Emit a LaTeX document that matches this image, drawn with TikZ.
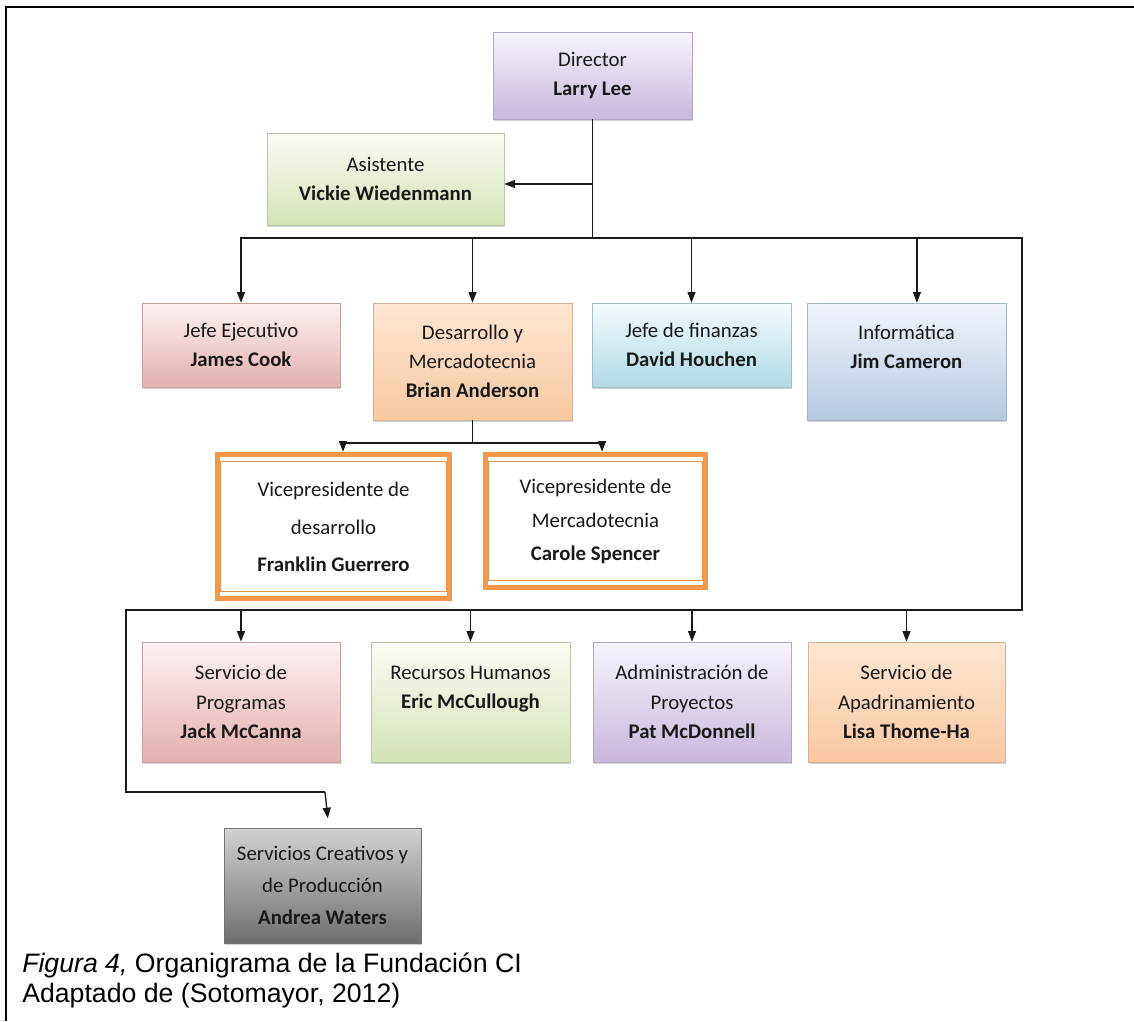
\documentclass[tikz,border=0pt]{standalone}
\usepackage{fontspec}
\setmainfont{Liberation Sans}
\newfontfamily\boxfont{Carlito}
\usetikzlibrary{arrows.meta,shadows,calc}
\definecolor{purT}{HTML}{F7F3FB}
\definecolor{purB}{HTML}{C8B8DB}
\definecolor{grnT}{HTML}{FBFDF5}
\definecolor{grnB}{HTML}{D3E2B8}
\definecolor{pnkT}{HTML}{FDF2F2}
\definecolor{pnkB}{HTML}{E2B0AF}
\definecolor{orgT}{HTML}{FDE6D3}
\definecolor{orgB}{HTML}{F9C8A0}
\definecolor{cyaT}{HTML}{F5FBFD}
\definecolor{cyaB}{HTML}{B0D9E5}
\definecolor{bluT}{HTML}{F0F4FA}
\definecolor{bluB}{HTML}{B6C9E1}
\definecolor{gryT}{HTML}{D2D2D2}
\definecolor{gryB}{HTML}{6E6E6E}
\definecolor{vporange}{HTML}{F79646}
\tikzset{
  orgbox/.style 2 args={rectangle, draw=#2!70!gray, line width=0.5pt,
    top color=#1, bottom color=#2,
    drop shadow={shadow xshift=0.8pt, shadow yshift=-1.8pt, opacity=0.35},
    font=\boxfont\fontsize{15.6}{22}\selectfont, text=black!90, align=center, inner sep=2pt},
  vpbox/.style={rectangle, fill=white, draw=none, font=\boxfont\fontsize{15.6}{#1}\selectfont,
    text=black!90, align=center, inner sep=2pt},
  vpouter/.style={draw=vporange, line width=3.75pt},
  vpinner/.style={draw=vporange!85!gray, line width=0.8pt},
  conn/.style={line width=1pt, draw=black!90},
  arr/.style={conn, -{Triangle[width=6pt,length=8pt]}},
  captxt/.style={anchor=base west, font=\fontsize{20}{22.5}\selectfont, inner sep=0pt}
}
\begin{document}
\begin{tikzpicture}[x=0.75pt,y=-0.75pt]
\useasboundingbox (0,0) rectangle (1134,1021);
% frame
\draw[line width=2.2pt] (6,1021) -- (6,7) -- (1134,7);

% level 0/1
\node[orgbox={purT}{purB}, minimum width=149.25pt, minimum height=65.25pt] (dir) at (592.5,75.5)
  {Director\\\textbf{Larry Lee}};
\node[orgbox={grnT}{grnB}, minimum width=177.75pt, minimum height=69pt] (asis) at (385.5,179)
  {Asistente\\\textbf{Vickie Wiedenmann}};

% level 2
\node[orgbox={pnkT}{pnkB}, minimum width=148.5pt, minimum height=63pt] (je) at (241,345)
  {Jefe Ejecutivo\\\textbf{James Cook}};
\node[orgbox={orgT}{orgB}, minimum width=149.25pt, minimum height=87.75pt] (dm) at (472.5,361.5)
  {Desarrollo y\\Mercadotecnia\\\textbf{Brian Anderson}};
\node[orgbox={cyaT}{cyaB}, minimum width=149.25pt, minimum height=63pt] (jf) at (691.5,345)
  {Jefe de finanzas\\\textbf{David Houchen}};
\node[orgbox={bluT}{bluB}, minimum width=149.25pt, minimum height=87.75pt] (inf) at (906.5,361.5)
  {Informática\\\textbf{Jim Cameron}\\\mbox{}};

% vice presidents
\node[vpbox=28, minimum width=177.75pt, minimum height=112.5pt] (vp1) at (333.5,527)
  {Vicepresidente de\\desarrollo\\\textbf{Franklin Guerrero}};
\node[vpbox=25, minimum width=168.75pt, minimum height=104.25pt] (vp2) at (595.5,521.5)
  {Vicepresidente de\\Mercadotecnia\\\textbf{Carole Spencer}};
\foreach \v in {vp1,vp2}{
  \draw[vpouter] ([shift={(2.5,2.5)}]\v.north west) rectangle ([shift={(-2.5,-3.5)}]\v.south east);
  \draw[vpinner] ([shift={(6,10)}]\v.north west) rectangle ([shift={(-6,-11)}]\v.south east);
}

% level 3
\node[orgbox={pnkT}{pnkB}, minimum width=148.5pt, minimum height=90pt] (sp) at (241,702)
  {Servicio de\\Programas\\\textbf{Jack McCanna}};
\node[orgbox={grnT}{grnB}, minimum width=149.25pt, minimum height=90pt] (rh) at (470.5,702)
  {Recursos Humanos\\\textbf{Eric McCullough}\\\mbox{}};
\node[orgbox={purT}{purB}, minimum width=148.5pt, minimum height=90pt] (ap) at (692,702)
  {Administración de\\Proyectos\\\textbf{Pat McDonnell}};
\node[orgbox={orgT}{orgB}, minimum width=147.75pt, minimum height=90pt] (sa) at (906.5,702)
  {Servicio de\\Apadrinamiento\\\textbf{Lisa Thome-Ha}};

% level 4
\node[orgbox={gryT}{gryB}, minimum width=147.75pt, minimum height=86.25pt,
      font=\boxfont\fontsize{15.6}{24}\selectfont] (sc) at (322.5,885.5)
  {Servicios Creativos y\\de Producción\\\textbf{Andrea Waters}};

% connectors
\coordinate (b1a) at (240,238);
\coordinate (b1b) at (1022,238);
\coordinate (b2b) at (1022,610);
\coordinate (b2a) at (126,610);
\coordinate (c1) at (126,792);
\coordinate (c2) at (325,792);
\coordinate (ast) at ([yshift=-3.75pt]asis.east);
\coordinate (infin) at ([xshift=7.8pt]inf.north);
\coordinate (s1) at (343,443);
\coordinate (s2) at (602,443);
\coordinate (scin) at ([xshift=4pt,yshift=7pt]sc.north);

\draw[conn] (dir.south) -- (dir.south |- b1a);
\draw[arr] (dir.south |- ast) -- (ast);
\draw[conn] (b1a) -- (b1b) -- (b2b) -- (b2a) -- (c1) -- (c2);
\draw[arr] (c2) -- (scin);

\draw[arr] (je.north |- b1a) -- (je.north);
\draw[arr] (dm.north |- b1a) -- (dm.north);
\draw[arr] (jf.north |- b1a) -- (jf.north);
\draw[arr] (infin |- b1a) -- (infin);

\draw[conn] (dm.south) -- (dm.south |- s1);
\draw[conn] (s1) -- (s2);
\draw[arr] (s1) -- (s1 |- vp1.north);
\draw[arr] (s2) -- (s2 |- vp2.north);

\draw[arr] (sp.north |- b2a) -- (sp.north);
\draw[arr] (rh.north |- b2a) -- (rh.north);
\draw[arr] (ap.north |- b2a) -- (ap.north);
\draw[arr] (sa.north |- b2a) -- (sa.north);

% caption
\node[captxt] (cap1) at (22,972) {\textit{Figura 4,} Organigrama de la Fundación CI};
\node[captxt] (cap2) at (22,1002) {Adaptado de (Sotomayor, 2012)};
\end{tikzpicture}
\end{document}
